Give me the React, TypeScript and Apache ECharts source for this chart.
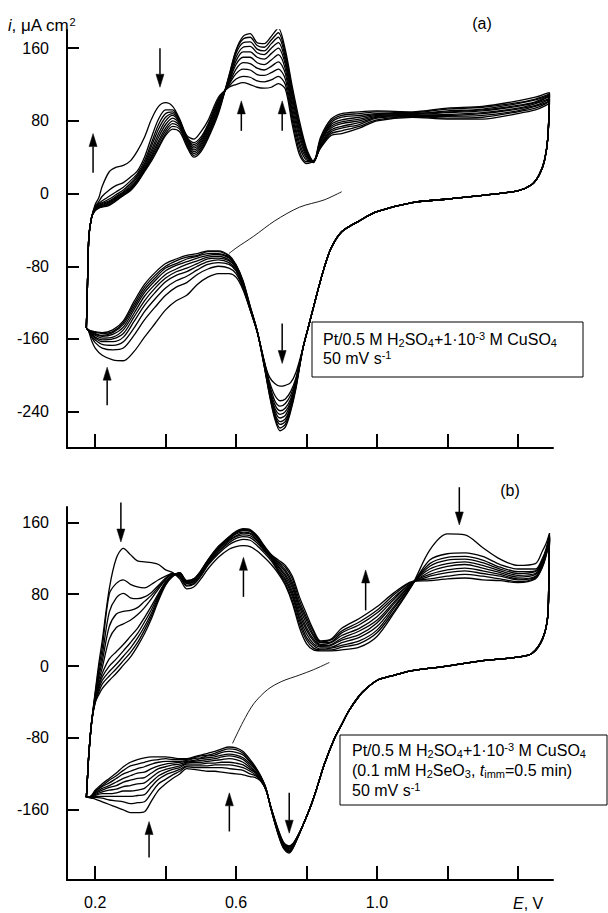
import React, { useEffect, useRef } from 'react';
import * as echarts from 'echarts';

// ---------- Panel (a) : Pt / 0.5 M H2SO4 + 1e-3 M CuSO4 ----------
const A_AN_E = [0.175, 0.178, 0.182, 0.19, 0.20, 0.21, 0.22, 0.24, 0.26, 0.28, 0.30, 0.32, 0.34, 0.36, 0.38, 0.40, 0.42, 0.44, 0.46, 0.48, 0.50, 0.52, 0.55, 0.58, 0.60, 0.62, 0.64, 0.66, 0.68, 0.70, 0.72, 0.74, 0.76, 0.78, 0.80, 0.82, 0.84, 0.87, 0.90, 0.95, 1.00, 1.10, 1.20, 1.30, 1.40, 1.45, 1.48, 1.49];
const A_AN_HEAD = [-148, -102, -48, -26];
const A_AN = [
  [-12, -5, 8, 24, 29, 31, 36, 47, 62, 82, 96, 100, 96, 82, 64, 60, 68, 80, 106, 117, 120, 122, 120, 117, 116, 117, 121, 115, 75, 43, 33, 36, 50, 64, 66, 72, 80, 84, 82, 82, 88, 92, 97, 100],
  [-14, -9, -3, 4, 9, 12, 18, 25, 40, 62, 82, 92, 92, 80, 62, 56, 62, 76, 104, 118, 126, 129, 128, 124, 123, 125, 129, 120, 80, 47, 35, 36, 51, 66, 69, 74, 81, 85, 83, 84, 90, 94, 99, 102],
  [-15, -11, -8, -3, 2, 7, 14, 22, 36, 56, 76, 88, 90, 80, 62, 54, 60, 74, 102, 120, 132, 137, 136, 131, 130, 133, 137, 126, 85, 52, 37, 36, 52, 68, 72, 76, 83, 85, 85, 86, 91, 96, 100, 103],
  [-16, -12, -10, -6, -1, 4, 11, 20, 33, 52, 71, 84, 88, 79, 62, 52, 58, 72, 100, 121, 137, 144, 143, 138, 136, 140, 145, 132, 90, 56, 39, 35, 53, 70, 74, 78, 84, 86, 86, 88, 93, 97, 102, 104],
  [-16, -13, -11, -8, -3, 2, 9, 18, 31, 48, 66, 80, 86, 78, 61, 50, 56, 70, 98, 123, 142, 150, 150, 144, 142, 147, 153, 137, 95, 61, 41, 35, 54, 72, 77, 80, 85, 86, 87, 89, 94, 99, 103, 105],
  [-17, -14, -12, -9, -4, 1, 7, 16, 29, 45, 62, 76, 83, 77, 60, 48, 54, 68, 96, 124, 146, 156, 156, 150, 148, 154, 160, 142, 100, 65, 43, 35, 56, 74, 79, 82, 86, 87, 89, 91, 96, 100, 105, 107],
  [-17, -14, -13, -10, -5, 0, 6, 15, 27, 42, 58, 72, 80, 75, 58, 46, 52, 66, 94, 126, 150, 161, 162, 155, 153, 160, 166, 146, 105, 69, 45, 35, 57, 76, 81, 84, 87, 88, 90, 92, 97, 101, 106, 108],
  [-18, -15, -14, -11, -6, -1, 5, 14, 26, 40, 55, 69, 77, 73, 56, 44, 50, 64, 92, 127, 154, 166, 167, 159, 157, 165, 172, 150, 109, 73, 47, 35, 59, 78, 84, 86, 88, 88, 91, 93, 99, 103, 107, 109],
  [-18, -16, -14, -12, -7, -2, 4, 13, 25, 38, 52, 66, 74, 71, 54, 42, 48, 62, 90, 129, 157, 170, 172, 163, 161, 169, 177, 154, 113, 76, 48, 34, 60, 80, 86, 88, 90, 89, 93, 95, 100, 104, 108, 110],
  [-19, -16, -15, -13, -8, -2, 3, 12, 24, 36, 50, 64, 71, 68, 52, 40, 46, 60, 88, 130, 158, 173, 176, 166, 165, 173, 182, 158, 117, 80, 50, 35, 62, 82, 88, 90, 91, 90, 94, 96, 102, 106, 110, 111],
];
const A_CA_E = [1.49, 1.485, 1.475, 1.46, 1.44, 1.40, 1.30, 1.20, 1.10, 1.00, 0.95, 0.90, 0.87, 0.85, 0.83, 0.81, 0.79, 0.77, 0.755, 0.74, 0.725, 0.71, 0.695, 0.68, 0.66, 0.64, 0.62, 0.60, 0.58, 0.55, 0.52, 0.49, 0.46, 0.43, 0.40, 0.37, 0.34, 0.31, 0.28, 0.25, 0.22, 0.20, 0.19, 0.18, 0.175];
const A_CA_COMMON = [60, 35, 20, 10, 3, -2, -6, -10, -20, -30, -42, -60, -82, -110, -140, -170];
const A_CA = [
  [-197, -208, -211, -212, -209, -202, -185, -152, -128, -106, -92, -88, -88, -92, -100, -112, -118, -128, -143, -158, -174, -184, -183, -178, -170, -162, -150, -148],
  [-203, -218, -226, -228, -222, -207, -184, -152, -128, -104, -88, -82, -80, -83, -89, -98, -103, -112, -125, -139, -156, -170, -172, -170, -164, -158, -150, -148],
  [-205, -222, -231, -234, -228, -210, -185, -152, -127, -103, -85, -78, -76, -78, -84, -91, -96, -104, -116, -130, -148, -163, -167, -166, -161, -157, -150, -148],
  [-207, -226, -236, -239, -232, -213, -186, -152, -127, -102, -84, -76, -73, -75, -80, -86, -90, -97, -109, -123, -141, -158, -163, -163, -159, -155, -150, -148],
  [-208, -229, -240, -243, -236, -215, -187, -152, -126, -101, -82, -74, -71, -72, -77, -82, -86, -93, -104, -118, -136, -154, -160, -161, -158, -154, -150, -148],
  [-209, -231, -244, -247, -239, -217, -188, -152, -126, -100, -81, -73, -69, -70, -74, -78, -83, -89, -100, -113, -132, -150, -158, -159, -156, -154, -150, -148],
  [-211, -234, -248, -251, -242, -218, -188, -151, -125, -99, -80, -71, -67, -68, -71, -75, -79, -85, -96, -109, -128, -147, -155, -157, -155, -153, -150, -148],
  [-212, -236, -251, -254, -244, -219, -189, -151, -125, -98, -79, -70, -66, -66, -69, -72, -77, -82, -93, -106, -125, -144, -153, -156, -154, -152, -150, -148],
  [-213, -238, -254, -258, -246, -221, -190, -151, -124, -97, -79, -69, -64, -64, -68, -70, -74, -80, -90, -103, -122, -142, -152, -154, -153, -152, -150, -148],
  [-215, -240, -257, -261, -248, -222, -190, -151, -124, -96, -78, -68, -63, -63, -66, -68, -72, -77, -87, -100, -119, -140, -150, -153, -152, -151, -150, -148],
];
const THIN_A_E = [0.90, 0.85, 0.78, 0.71, 0.65, 0.60, 0.58];
const THIN_A_I = [2, -7, -15, -30, -47, -60, -66];
// arrows: [E, tail current, head current]
const ARROWS_A = [[0.384, 160, 117], [0.615, 69, 102], [0.731, 69, 102], [0.194, 23, 66], [0.234, -233, -191], [0.731, -143, -187]];

// ---------- Panel (b) : + 0.1 mM H2SeO3 ----------
const B_AN_E = [0.175, 0.178, 0.182, 0.19, 0.20, 0.21, 0.22, 0.24, 0.26, 0.28, 0.30, 0.32, 0.34, 0.36, 0.38, 0.40, 0.42, 0.44, 0.46, 0.48, 0.50, 0.52, 0.55, 0.58, 0.60, 0.62, 0.64, 0.66, 0.68, 0.70, 0.72, 0.74, 0.76, 0.78, 0.80, 0.82, 0.84, 0.87, 0.90, 0.95, 1.00, 1.05, 1.10, 1.15, 1.20, 1.25, 1.30, 1.35, 1.40, 1.45, 1.47, 1.48, 1.49];
const B_AN_HEAD = [-146, -125, -98, -62];
const B_AN = [
  [-29, 2, 28, 86, 120, 131, 124, 117, 116, 115, 113, 107, 104, 97, 86, 88, 97, 108, 121, 130, 133, 134, 133, 128, 121, 113, 103, 90, 70, 43, 25, 18, 17, 17, 18, 21, 33, 60, 90, 129, 147, 146, 132, 119, 112, 114, 128, 136, 148],
  [-31, -3, 20, 80, 92, 96, 91, 88, 87, 91, 96, 100, 103, 99, 89, 91, 100, 112, 125, 135, 139, 141, 140, 134, 126, 117, 105, 92, 73, 47, 29, 20, 18, 18, 21, 25, 37, 62, 90, 118, 125, 126, 122, 113, 108, 108, 120, 130, 146],
  [-33, -8, 12, 60, 76, 81, 76, 75, 77, 82, 90, 98, 103, 100, 90, 92, 101, 113, 127, 137, 142, 144, 143, 137, 128, 119, 106, 95, 77, 51, 32, 23, 19, 20, 23, 28, 40, 65, 91, 114, 121, 122, 118, 110, 105, 106, 118, 128, 145],
  [-35, -12, 5, 44, 58, 61, 62, 65, 72, 79, 88, 97, 102, 101, 92, 94, 103, 114, 128, 139, 144, 146, 145, 139, 129, 120, 108, 97, 80, 54, 36, 25, 21, 21, 26, 32, 44, 67, 91, 111, 118, 119, 115, 108, 103, 105, 117, 127, 144],
  [-36, -16, -2, 30, 43, 47, 51, 57, 65, 75, 86, 96, 102, 102, 92, 94, 103, 115, 130, 140, 145, 148, 147, 140, 130, 121, 110, 100, 83, 58, 40, 28, 22, 23, 29, 35, 48, 70, 92, 108, 114, 116, 112, 106, 101, 103, 116, 126, 144],
  [-37, -20, -8, 8, 16, 24, 33, 42, 54, 67, 81, 94, 101, 103, 93, 95, 104, 116, 131, 141, 147, 149, 148, 142, 131, 122, 111, 102, 87, 62, 43, 30, 23, 24, 31, 39, 51, 72, 92, 105, 111, 113, 109, 104, 99, 102, 115, 125, 143],
  [-38, -23, -12, 0, 8, 17, 26, 36, 49, 63, 79, 93, 101, 103, 94, 96, 105, 117, 131, 142, 148, 151, 150, 143, 132, 123, 113, 105, 90, 66, 47, 33, 24, 26, 34, 42, 55, 75, 93, 102, 107, 109, 106, 102, 97, 100, 114, 124, 142],
  [-39, -26, -16, -6, 2, 11, 20, 31, 44, 59, 77, 92, 100, 103, 94, 96, 105, 117, 132, 143, 149, 151, 150, 144, 133, 123, 115, 107, 93, 69, 51, 35, 26, 27, 37, 46, 59, 77, 93, 100, 104, 106, 103, 100, 96, 99, 113, 124, 142],
  [-40, -29, -20, -11, -3, 6, 15, 26, 40, 56, 75, 91, 100, 104, 95, 97, 106, 118, 133, 143, 149, 152, 151, 144, 133, 124, 116, 110, 97, 73, 54, 38, 27, 29, 39, 49, 62, 80, 94, 97, 100, 102, 100, 97, 94, 98, 111, 123, 141],
  [-41, -32, -25, -16, -8, 1, 10, 22, 36, 53, 73, 90, 100, 104, 95, 97, 106, 118, 133, 144, 150, 153, 152, 145, 134, 124, 118, 112, 100, 77, 58, 40, 28, 30, 42, 53, 66, 82, 94, 95, 97, 98, 96, 95, 93, 97, 110, 122, 140],
];
const B_CA_E = [1.49, 1.488, 1.485, 1.47, 1.44, 1.40, 1.30, 1.20, 1.10, 1.05, 1.00, 0.97, 0.95, 0.92, 0.90, 0.88, 0.85, 0.83, 0.81, 0.79, 0.775, 0.76, 0.75, 0.735, 0.72, 0.70, 0.685, 0.67, 0.655, 0.64, 0.62, 0.60, 0.58, 0.56, 0.54, 0.52, 0.50, 0.48, 0.46, 0.44, 0.42, 0.40, 0.38, 0.36, 0.34, 0.32, 0.30, 0.28, 0.26, 0.24, 0.22, 0.20, 0.19, 0.18, 0.175];
const B_CA_COMMON = [95, 55, 30, 14, 10, 6, 0, -5, -10, -16, -25, -33, -50, -65, -80, -110, -135, -158, -177];
const B_CA = [
  [-189, -198, -200, -196, -182, -158, -138, -128, -124, -123, -121, -120, -119, -118, -117, -117, -116, -115, -114, -120, -125, -131, -138, -150, -162, -163, -163, -160, -157, -154, -151, -148, -147, -146, -146],
  [-189, -199, -201, -197, -183, -158, -138, -127, -122, -120, -116, -115, -114, -113, -113, -113, -113, -113, -112, -117, -121, -126, -131, -141, -151, -152, -153, -151, -150, -149, -147, -146, -147, -146, -146],
  [-189, -199, -202, -198, -184, -159, -138, -127, -121, -117, -113, -111, -110, -110, -110, -111, -111, -111, -111, -115, -118, -121, -126, -134, -143, -144, -145, -145, -145, -145, -145, -145, -146, -146, -146],
  [-190, -200, -203, -199, -184, -159, -137, -126, -119, -115, -110, -108, -107, -107, -108, -108, -109, -109, -109, -113, -115, -118, -122, -129, -136, -138, -139, -139, -141, -142, -142, -144, -146, -146, -146],
  [-190, -201, -204, -200, -185, -159, -137, -125, -118, -113, -107, -104, -103, -104, -105, -106, -107, -107, -108, -111, -113, -115, -118, -124, -130, -131, -133, -134, -137, -138, -140, -143, -145, -146, -146],
  [-190, -201, -205, -200, -185, -159, -137, -125, -117, -111, -104, -101, -100, -101, -103, -104, -105, -106, -107, -109, -110, -112, -114, -119, -124, -125, -127, -129, -133, -135, -138, -142, -145, -146, -146],
  [-190, -202, -206, -201, -186, -160, -137, -124, -115, -109, -102, -99, -98, -99, -101, -102, -103, -105, -106, -107, -108, -109, -111, -114, -118, -119, -122, -125, -129, -133, -136, -141, -145, -146, -146],
  [-191, -203, -206, -202, -187, -160, -136, -123, -114, -107, -99, -96, -95, -96, -99, -100, -102, -103, -105, -106, -106, -106, -107, -109, -112, -114, -117, -120, -125, -130, -134, -140, -145, -146, -146],
  [-191, -203, -207, -202, -187, -160, -136, -123, -113, -106, -97, -93, -92, -94, -97, -99, -100, -102, -104, -104, -104, -103, -104, -105, -107, -109, -111, -116, -122, -127, -133, -139, -144, -146, -146],
  [-191, -204, -208, -203, -188, -160, -136, -122, -112, -104, -95, -91, -90, -92, -95, -97, -99, -101, -103, -103, -102, -101, -101, -101, -102, -104, -107, -112, -119, -125, -131, -138, -144, -146, -146],
];
const THIN_B_E = [0.865, 0.82, 0.78, 0.73, 0.69, 0.65, 0.62, 0.59];
const THIN_B_I = [4, -4, -10, -17, -26, -42, -62, -86];
const ARROWS_B = [[0.273, 182, 138], [0.621, 77, 121], [1.234, 199, 157], [0.968, 62, 107], [0.353, -213, -173], [0.581, -184, -141], [0.751, -141, -186]];

// ---------- axes ----------
const X_TICKS = [0.2, 0.4, 0.6, 0.8, 1.0, 1.2, 1.4];
const X_LABELS = [0.2, 0.6, 1.0];
const YA_TICKS = [-240, -160, -80, 0, 80, 160];
const YB_TICKS = [-160, -80, 0, 80, 160];

const FF = "'Liberation Sans', Arial, Helvetica, sans-serif";

function buildLoop(anE: number[], anHead: number[], an: number[], caE: number[], caCommon: number[], ca: number[]) {
  const pts: number[][] = [];
  anHead.forEach((v, j) => pts.push([anE[j], v]));
  an.forEach((v, j) => pts.push([anE[anHead.length + j], v]));
  caCommon.forEach((v, j) => pts.push([caE[1 + j], v]));
  ca.forEach((v, j) => pts.push([caE[1 + caCommon.length + j], v]));
  return pts;
}

function arrowSeries(data: number[][], idx: number) {
  return {
    type: 'custom',
    xAxisIndex: idx,
    yAxisIndex: idx,
    silent: true,
    clip: false,
    z: 5,
    data,
    renderItem: (params: any, api: any) => {
      const e = api.value(0);
      const p1 = api.coord([e, api.value(1)]);
      const p2 = api.coord([e, api.value(2)]);
      const dir = p2[1] > p1[1] ? 1 : -1;
      const hl = 13;
      const hw = 4;
      const base = p2[1] - dir * hl;
      return {
        type: 'group',
        children: [
          { type: 'line', shape: { x1: p1[0], y1: p1[1], x2: p2[0], y2: base }, style: { stroke: '#000', lineWidth: 1.5 } },
          { type: 'polygon', shape: { points: [[p2[0], p2[1]], [p2[0] - hw, base], [p2[0] + hw, base]] }, style: { fill: '#000', stroke: '#000', lineWidth: 0.5 } },
        ],
      };
    },
  };
}

function xAxis(gridIndex: number, labels: boolean) {
  return {
    type: 'value',
    gridIndex,
    min: 0.12,
    max: 1.5,
    axisLine: { show: true, onZero: false, lineStyle: { color: '#000', width: 2 } },
    axisTick: { show: true, inside: true, length: 14, customValues: X_TICKS, lineStyle: { color: '#000', width: 2 } },
    axisLabel: labels
      ? { show: true, customValues: X_LABELS, formatter: (v: number) => v.toFixed(1), color: '#000', fontSize: 16, fontFamily: FF, margin: 14 }
      : { show: false },
    splitLine: { show: false },
  };
}

function yAxis(gridIndex: number, min: number, max: number, ticks: number[]) {
  return {
    type: 'value',
    gridIndex,
    min,
    max,
    axisLine: { show: true, onZero: false, lineStyle: { color: '#000', width: 2 } },
    axisTick: { show: true, inside: true, length: 12, customValues: ticks, lineStyle: { color: '#000', width: 2 } },
    axisLabel: { show: true, customValues: ticks, color: '#000', fontSize: 16, fontFamily: FF, margin: 18 },
    splitLine: { show: false },
  };
}

const RICH = {
  sub: { fontSize: 11, fontFamily: FF, fill: '#000', verticalAlign: 'bottom', lineHeight: 12 },
  sup: { fontSize: 11, fontFamily: FF, fill: '#000', verticalAlign: 'top', lineHeight: 12 },
  it: { fontSize: 16, fontFamily: FF, fill: '#000', fontStyle: 'italic' },
};

function txt(text: string, x: number, y: number, size = 16, align = 'left') {
  return {
    type: 'text',
    x,
    y,
    silent: true,
    style: { text, fill: '#000', fontSize: size, fontFamily: FF, align, verticalAlign: 'middle', lineHeight: 18, rich: RICH },
  };
}

export default function App() {
  const ref = useRef<HTMLDivElement>(null);
  useEffect(() => {
    if (!ref.current) return;
    const chart = echarts.init(ref.current, null, { renderer: 'svg' });
    const series: any[] = [];
    A_AN.forEach((an, k) => {
      series.push({
        type: 'line', xAxisIndex: 0, yAxisIndex: 0, symbol: 'none', smooth: 0.3, silent: true,
        lineStyle: { color: '#000', width: 1.3 },
        data: buildLoop(A_AN_E, A_AN_HEAD, an, A_CA_E, A_CA_COMMON, A_CA[k]),
      });
    });
    series.push({
      type: 'line', xAxisIndex: 0, yAxisIndex: 0, symbol: 'none', smooth: 0.3, silent: true,
      lineStyle: { color: '#000', width: 0.9 },
      data: THIN_A_E.map((e, j) => [e, THIN_A_I[j]]),
    });
    series.push(arrowSeries(ARROWS_A, 0));
    B_AN.forEach((an, k) => {
      series.push({
        type: 'line', xAxisIndex: 1, yAxisIndex: 1, symbol: 'none', smooth: 0.3, silent: true,
        lineStyle: { color: '#000', width: 1.3 },
        data: buildLoop(B_AN_E, B_AN_HEAD, an, B_CA_E, B_CA_COMMON, B_CA[k]),
      });
    });
    series.push({
      type: 'line', xAxisIndex: 1, yAxisIndex: 1, symbol: 'none', smooth: 0.3, silent: true,
      lineStyle: { color: '#000', width: 0.9 },
      data: THIN_B_E.map((e, j) => [e, THIN_B_I[j]]),
    });
    series.push(arrowSeries(ARROWS_B, 1));

    chart.setOption({
      animation: false,
      backgroundColor: '#fff',
      grid: [
        { left: 67, top: 30, width: 486, height: 418 },
        { left: 67, top: 507, width: 486, height: 373 },
      ],
      xAxis: [xAxis(0, false), xAxis(1, true)],
      yAxis: [yAxis(0, -280, 180, YA_TICKS), yAxis(1, -238, 177, YB_TICKS)],
      series,
      graphic: [
        txt('{it|i}, μA cm{sup|2}', 8, 25, 17),
        txt('(a)', 482, 23, 16, 'center'),
        txt('(b)', 510, 490, 16, 'center'),
        { type: 'rect', silent: true, shape: { x: 312, y: 322, width: 271, height: 55 }, style: { fill: 'none', stroke: '#000', lineWidth: 1 } },
        txt('Pt/0.5 M H{sub|2}SO{sub|4}+1·10{sup|-3} M CuSO{sub|4}', 323, 339),
        txt('50 mV s{sup|-1}', 323, 358),
        { type: 'rect', silent: true, shape: { x: 340, y: 735, width: 267, height: 70 }, style: { fill: 'none', stroke: '#000', lineWidth: 1 } },
        txt('Pt/0.5 M H{sub|2}SO{sub|4}+1·10{sup|-3} M CuSO{sub|4}', 352, 750),
        txt('(0.1 mM H{sub|2}SeO{sub|3}, {it|t}{sub|imm}=0.5 min)', 352, 770),
        txt('50 mV s{sup|-1}', 352, 790),
        txt('{it|E}, V', 513, 903),
      ],
    });
    return () => chart.dispose();
  }, []);
  return <div ref={ref} style={{ position: 'fixed', left: 0, top: 0, width: 608, height: 913, background: '#fff' }} />;
}
